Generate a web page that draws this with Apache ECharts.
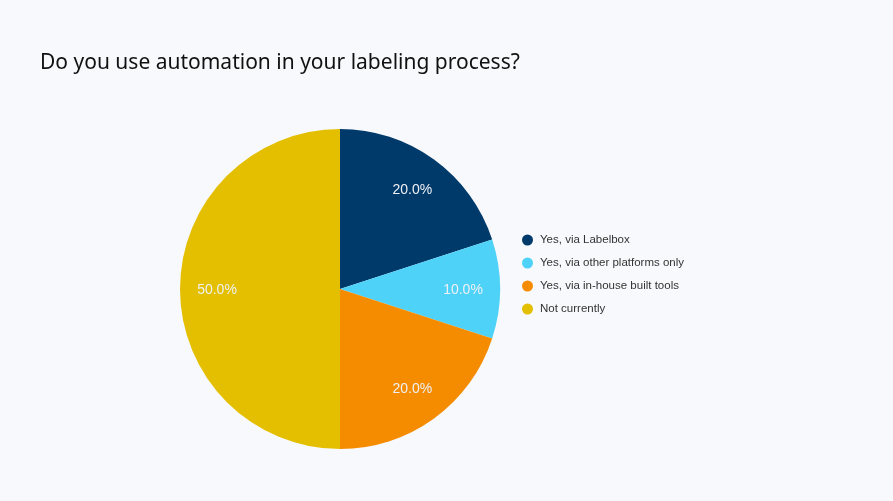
<!DOCTYPE html>
<html>
<head>
<meta charset="utf-8">
<script src="https://cdn.jsdelivr.net/npm/echarts@6/dist/echarts.min.js"></script>
<style>
html,body{margin:0;padding:0;background:#f8f9fc;}
#chart{width:893px;height:501px;}
</style>
</head>
<body>
<div id="chart"></div>
<script>
const categories = ['Yes, via Labelbox', 'Yes, via other platforms only', 'Yes, via in-house built tools', 'Not currently'];
const values = [20, 10, 20, 50];
const colors = ['#003a6b', '#4fd2f8', '#f58c00', '#e3bf00'];

const data = categories.map((c, i) => ({ name: c, value: values[i], itemStyle: { color: colors[i] } }));

const chart = echarts.init(document.getElementById('chart'));
chart.setOption({
  backgroundColor: '#f8f9fc',
  animation: false,
  title: {
    text: 'Do you use automation in your labeling process?',
    left: 35,
    top: 48,
    textStyle: { fontFamily: 'Noto Sans', fontSize: 21, fontWeight: 'normal', color: '#111' }
  },
  legend: {
    orient: 'vertical',
    left: 517,
    top: 229,
    icon: 'circle',
    itemWidth: 11,
    itemHeight: 11,
    itemGap: 11,
    data: categories,
    textStyle: { fontFamily: 'Liberation Sans', fontSize: 11.5, lineHeight: 12, color: '#333', padding: [0, 0, 0, 2] }
  },
  series: [
    {
      type: 'pie',
      center: [340, 289],
      radius: [0, 160],
      startAngle: 90,
      clockwise: true,
      label: { show: false },
      labelLine: { show: false },
      data: data
    },
    {
      type: 'pie',
      silent: true,
      center: [340, 290],
      radius: [80, 160],
      startAngle: 90,
      clockwise: true,
      itemStyle: { color: 'transparent' },
      label: {
        show: true,
        position: 'inside',
        formatter: p => p.value.toFixed(1) + '%',
        fontFamily: 'Liberation Sans',
        fontSize: 14,
        color: '#eef0f4'
      },
      labelLine: { show: false },
      data: categories.map((c, i) => ({ name: c, value: values[i], itemStyle: { color: 'rgba(0,0,0,0)' } }))
    }
  ]
});
</script>
</body>
</html>
